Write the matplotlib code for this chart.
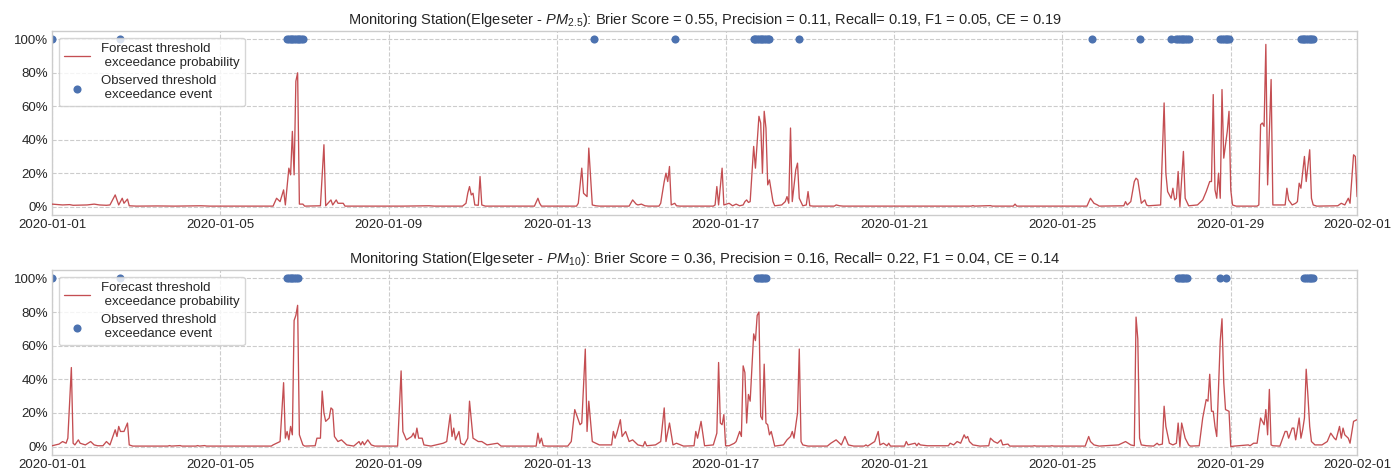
import matplotlib
matplotlib.use("Agg")
import matplotlib.pyplot as plt
import matplotlib.dates as mdates
from matplotlib.ticker import PercentFormatter
import seaborn as sns
import pandas as pd
import numpy as np

# ---------------- data (hour offsets from 2020-01-01 00:00, probability in %) ----------------
pm25_hours = [0, 6, 10, 12, 20, 24, 27, 31, 33, 36, 38, 40, 41, 43, 44, 48, 60, 70, 85, 90,
              126, 128, 130, 132, 133, 135, 136, 137, 138, 139, 140, 141, 143, 144, 153, 155, 156,
              159, 160, 162, 163, 166, 167, 200, 215, 218, 234, 236, 237, 238, 239, 240, 241, 243,
              244, 245, 247, 275, 277, 278, 279, 299, 300, 302, 303, 305, 306, 308, 310, 312, 329,
              331, 333, 334, 336, 338, 340, 346, 347, 349, 350, 351, 352, 353, 355, 356, 358, 377,
              378, 379, 380, 382, 383, 386, 388, 390, 392, 394, 395, 396, 397, 398, 400, 401, 403,
              404, 405, 406, 407, 408, 409, 411, 412, 416, 418, 419, 420, 421, 422, 424, 425, 426,
              428, 430, 431, 432, 434, 446, 447, 449, 451, 524, 525, 526, 535, 536, 548, 549, 550,
              590, 592, 594, 596, 597, 611, 612, 613, 615, 617, 618, 619, 621, 623, 624, 625, 632,
              634, 635, 636, 638, 639, 640, 641, 642, 643, 645, 646, 648, 653, 656, 658, 660, 661,
              662, 663, 664, 665, 666, 667, 668, 670, 671, 672, 673, 675, 687, 688, 689, 690, 691,
              692, 693, 695, 696, 703, 704, 705, 707, 709, 710, 711, 712, 714, 715, 717, 718, 719,
              721, 733, 735, 737, 739, 740, 742, 743, 744]
pm25_prob = [1.5, 1.0, 1.2, 0.8, 1.0, 1.5, 1.0, 0.8, 1.0, 7, 1.0, 5, 2, 4.5, 0.5, 0.3, 0.4, 0.3, 0.5, 0.3,
             0.3, 5, 3, 10, 1, 23, 19, 45, 19, 75, 80, 1.5, 1.5, 0.3, 0.5, 37, 0.5,
             4, 1, 4, 2, 2, 0.3, 0.3, 0.5, 0.3, 0.3, 2, 8, 12, 7, 8, 1, 0.8,
             18, 1, 0.3, 0.3, 5, 2, 0.3, 0.3, 2, 23, 8, 6, 35, 1, 0.5, 0.3, 0.3,
             4, 1.5, 1, 1.5, 0.5, 0.3, 0.3, 2, 15, 20, 15, 24, 1, 2, 0.5, 0.3, 0.3,
             1, 12, 1, 23, 1, 2, 0.5, 1.5, 0.5, 1, 3, 4, 2.5, 3, 36, 23, 54,
             50, 20, 57, 47, 13, 16, 3, 0.5, 1, 3, 6, 2, 47, 3, 22, 26, 5,
             0.5, 1, 9, 0.5, 0.3, 0.3, 1, 0.5, 0.3, 0.3, 0.6, 0.3, 0.6, 0.3, 0.3, 1.5, 0.3,
             0.3, 5, 2, 1, 0.3, 0.5, 3, 1, 3, 15, 17, 16, 2, 4, 1, 0.5, 1,
             62, 20, 9, 5, 11, 4, 5, 21, 0, 33, 5, 0.5, 1, 4, 9, 15, 15,
             67, 10, 5, 20, 5, 70, 29, 45, 57, 10, 1, 0.3, 0.3, 1, 49, 50, 48,
             97, 13, 76, 1, 1, 11, 4, 1, 2, 3, 14, 11, 30, 15, 34, 5, 1,
             0.3, 0.5, 2, 1, 5, 2, 31, 30, 6]
pm25_events = [0, 39, 134, 135, 136, 137, 138, 139, 140, 141, 142, 143, 309, 355,
               400, 401, 402, 403, 404, 405, 406, 407, 408, 409, 426, 593, 620, 638,
               641, 642, 643, 644, 645, 646, 647, 648, 666, 667, 668, 669, 670, 671,
               712, 713, 714, 715, 716, 717, 718, 719]

pm10_hours = [0, 4, 6, 8, 9, 11, 12, 13, 15, 16, 19, 22, 24, 26, 29, 31, 33, 36, 37, 38, 39, 41,
              43, 44, 46, 66, 67, 68, 73, 74, 82, 83, 84, 87, 88, 125, 126, 130, 132, 133, 134,
              135, 136, 137, 138, 139, 140, 141, 143, 144, 150, 151, 153, 154, 155, 156, 158, 159,
              160, 161, 163, 165, 168, 172, 175, 176, 177, 178, 180, 182, 184, 197, 199, 200, 202,
              205, 206, 207, 208, 209, 211, 212, 216, 223, 225, 227, 228, 229, 230, 232, 233, 235,
              237, 238, 240, 243, 245, 248, 254, 256, 276, 277, 278, 279, 280, 282, 294, 296, 298,
              301, 302, 304, 305, 306, 308, 312, 319, 320, 321, 322, 324, 325, 327, 329, 331, 334,
              337, 338, 339, 344, 347, 349, 350, 352, 354, 356, 360, 366, 367, 368, 370, 372, 377,
              379, 380, 381, 382, 383, 384, 386, 389, 390, 392, 393, 394, 395, 396, 397, 398, 400,
              401, 402, 403, 404, 405, 406, 407, 408, 409, 410, 412, 417, 419, 421, 422, 423, 425,
              426, 427, 428, 431, 442, 444, 447, 450, 452, 454, 457, 463, 464, 465, 469, 471, 472,
              474, 476, 477, 478, 486, 487, 488, 492, 493, 494, 495, 499, 511, 512, 514, 516, 518,
              520, 521, 522, 523, 525, 529, 534, 535, 537, 539, 540, 541, 542, 545, 546, 559, 560,
              561, 569, 570, 571, 589, 591, 592, 594, 597, 608, 612, 615, 617, 618, 619, 620, 621,
              624, 628, 630, 631, 633, 634, 635, 637, 639, 641, 642, 643, 644, 646, 648, 649, 654,
              656, 658, 659, 660, 661, 662, 663, 664, 666, 667, 668, 669, 671, 672, 674, 682, 683,
              685, 687, 689, 690, 691, 692, 693, 694, 695, 696, 700, 703, 704, 705, 707, 708, 709,
              711, 712, 713, 714, 715, 716, 717, 718, 720, 724, 727, 729, 731, 732, 734, 735, 736,
              737, 739, 740, 742, 744]
pm10_prob = [0.5, 1.5, 3, 2, 5, 47, 2, 1, 4, 2, 1, 3, 1, 0.5, 0.5, 3, 1, 10, 6, 12, 9, 9,
             14, 1, 0.3, 0.3, 0.6, 0.3, 0.6, 0.3, 0.3, 0.6, 0.3, 0.6, 0.3, 0.3, 1, 3, 38, 5, 9,
             4, 12, 7, 75, 78, 84, 7, 1, 0.3, 0.5, 5, 5, 33, 20, 15, 17, 23,
             22, 6, 3, 4, 1, 0.3, 3, 1, 3, 1, 4, 1, 0.3, 0.3, 45, 9, 4,
             6, 8, 5, 11, 5, 5, 1, 0.3, 2, 3, 19, 6, 11, 4, 9, 2, 1,
             5, 27, 5, 3, 3, 1, 2, 0.3, 0.3, 8, 2, 5, 0.5, 0.3, 0.3, 3, 22,
             13, 14, 58, 9, 27, 3, 1, 1, 9, 5, 8, 16, 6, 9, 3, 4, 1,
             0.3, 3, 0.5, 1, 3, 23, 3, 14, 1, 2, 0.3, 0.5, 9, 5, 15, 0.5, 1,
             8, 50, 14, 13, 19, 0.5, 0.5, 2, 3, 9, 6, 48, 44, 14, 31, 27, 67,
             63, 78, 80, 18, 16, 49, 14, 13, 7, 9, 0.3, 1, 4, 6, 9, 5, 20,
             58, 3, 1, 0.3, 0.3, 2, 4, 1, 6, 1, 0.3, 0.3, 1, 0.3, 3, 9, 1,
             2, 0.5, 2, 0.3, 0.3, 3, 1, 2, 0.5, 2, 1, 0.5, 0.5, 2, 1, 3, 2,
             7, 5, 6, 3, 1, 0.3, 0.5, 5, 3, 2, 3, 4, 1, 1.5, 0.3, 0.3, 0.5,
             0.3, 0.3, 0.5, 0.3, 0.3, 6, 3, 1, 0.3, 1, 3, 1, 0.5, 77, 64, 5, 1,
             0.5, 0.3, 2, 1, 1.5, 24, 12, 2, 1, 2, 14, 0, 14, 5, 1, 0.3, 0.5,
             17, 28, 27, 43, 21, 21, 12, 6, 63, 76, 38, 22, 21, 0, 0.3, 1, 0.5,
             2, 2, 17, 15, 13, 22, 7, 34, 1, 0.5, 0.3, 9, 9, 5, 11, 11, 4,
             17, 5, 10, 17, 46, 30, 12, 3, 1, 1, 3, 8, 5, 4, 12, 5, 11,
             7, 5, 2, 15, 16]
pm10_events = [0, 39, 134, 135, 136, 137, 138, 139, 140, 402, 403, 404, 405, 406, 407,
               642, 643, 644, 645, 646, 647, 666, 669, 714, 715, 716, 717, 718, 719]

titles = [
    r"Monitoring Station(Elgeseter - $PM_{2.5}$): Brier Score = 0.55, Precision = 0.11, Recall= 0.19, F1 = 0.05, CE = 0.19",
    r"Monitoring Station(Elgeseter - $PM_{10}$): Brier Score = 0.36, Precision = 0.16, Recall= 0.22, F1 = 0.04, CE = 0.14",
]
tick_dates = ["2020-01-01", "2020-01-05", "2020-01-09", "2020-01-13", "2020-01-17",
              "2020-01-21", "2020-01-25", "2020-01-29", "2020-02-01"]
forecast_label = "Forecast threshold\n exceedance probability"
event_label = "Observed threshold\n exceedance event"

# ---------------- style ----------------
sns.set_style("whitegrid")
plt.rcParams["font.family"] = ["Liberation Sans", "DejaVu Sans"]
plt.rcParams["mathtext.fontset"] = "custom"
plt.rcParams["mathtext.rm"] = "Liberation Sans"
plt.rcParams["mathtext.it"] = "Liberation Sans:italic"

RED = "#C44E52"
BLUE = "#4C72B0"
start = pd.Timestamp("2020-01-01")


def to_time(hours):
    return start + pd.to_timedelta(np.asarray(hours, dtype=float), unit="h")


fig = plt.figure(figsize=(13.92, 4.75), dpi=100)
ax1 = fig.add_axes([0.0374, 0.5474, 0.9375, 0.3873])
ax2 = fig.add_axes([0.0374, 0.0421, 0.9375, 0.3895])

series = [(ax1, pm25_hours, pm25_prob, pm25_events, titles[0]),
          (ax2, pm10_hours, pm10_prob, pm10_events, titles[1])]

for ax, hrs, prob, ev, title in series:
    ax.plot(to_time(hrs), np.asarray(prob) / 100.0, color=RED, lw=0.95,
            label=forecast_label, zorder=3)
    ax.scatter(to_time(ev), np.ones(len(ev)), s=34, color=BLUE, zorder=2,
               label=event_label, linewidths=0)
    ax.set_xlim(start, pd.Timestamp("2020-02-01"))
    ax.set_ylim(-0.05, 1.05)
    ax.set_yticks([0, 0.2, 0.4, 0.6, 0.8, 1.0])
    ax.yaxis.set_major_formatter(PercentFormatter(1.0, decimals=0))
    ax.set_xticks(pd.to_datetime(tick_dates))
    ax.xaxis.set_major_formatter(mdates.DateFormatter("%Y-%m-%d"))
    ax.grid(True, linestyle="--", color="#cccccc", lw=0.8)
    ax.tick_params(axis="both", labelsize=9.5, colors="#262626", pad=3, length=0)
    for sp in ax.spines.values():
        sp.set_color("#cccccc")
        sp.set_linewidth(1.0)
    ax.set_title(title, fontsize=10.5, color="#262626", pad=5)
    leg = ax.legend(loc="upper left", fontsize=9.5, frameon=True, framealpha=0.8,
                    edgecolor="#cccccc", borderaxespad=0.5)

fig.savefig("out.png", dpi=100)
